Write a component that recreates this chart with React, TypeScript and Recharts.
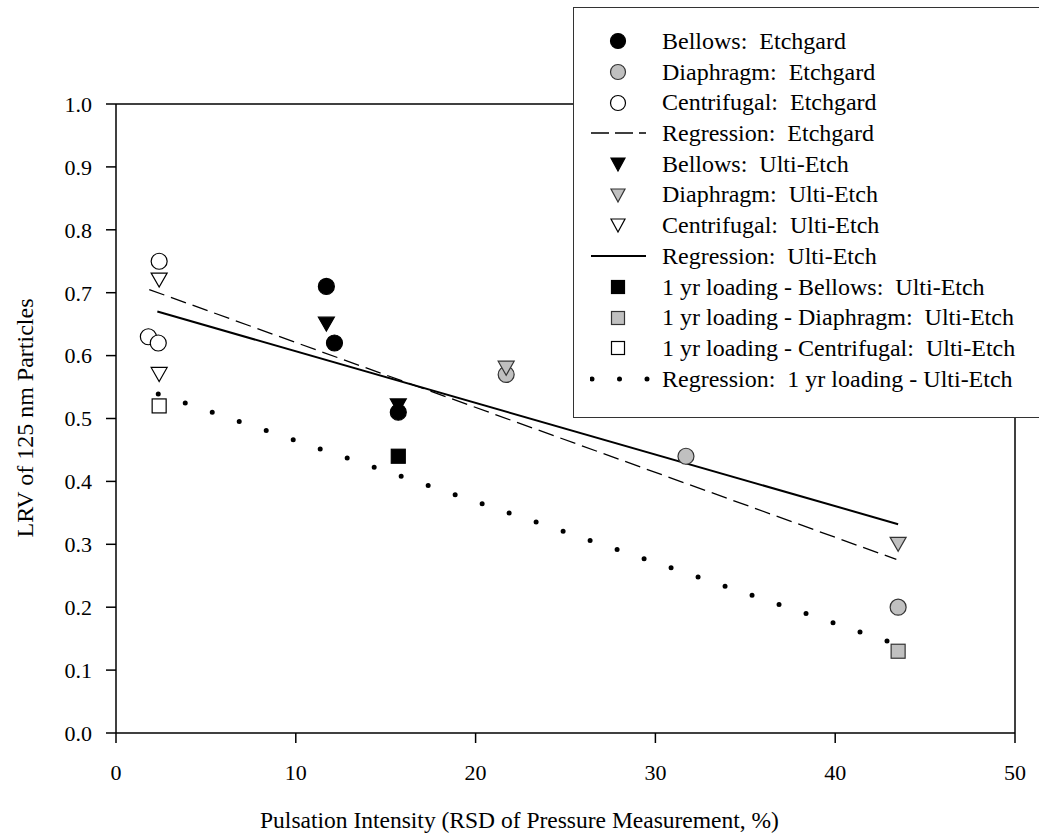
import React from 'react';
import {
  ScatterChart,
  Scatter,
  XAxis,
  YAxis,
  ReferenceLine,
  Legend,
} from 'recharts';

const FONT = "'Liberation Serif', 'Times New Roman', serif";
const GRAY = '#c0c0c0';

const xTicks = [0, 10, 20, 30, 40, 50];
const yTicks = [0, 0.1, 0.2, 0.3, 0.4, 0.5, 0.6, 0.7, 0.8, 0.9, 1.0];

// Etchgard
const bellowsEtchgard = [
  { x: 11.7, y: 0.71 },
  { x: 12.15, y: 0.62 },
  { x: 15.7, y: 0.51 },
];
const diaphragmEtchgard = [
  { x: 21.7, y: 0.57 },
  { x: 31.7, y: 0.44 },
  { x: 43.5, y: 0.2 },
];
const centrifugalEtchgard = [
  { x: 2.4, y: 0.75 },
  { x: 1.8, y: 0.63 },
  { x: 2.35, y: 0.62 },
];
const regressionEtchgard = [
  { x: 1.85, y: 0.705 },
  { x: 43.4, y: 0.276 },
];

// Ulti-Etch
const bellowsUlti = [
  { x: 11.7, y: 0.65 },
  { x: 15.7, y: 0.52 },
];
const diaphragmUlti = [
  { x: 21.7, y: 0.58 },
  { x: 43.5, y: 0.3 },
];
const centrifugalUlti = [
  { x: 2.4, y: 0.72 },
  { x: 2.4, y: 0.57 },
];
const regressionUlti = [
  { x: 2.3, y: 0.67 },
  { x: 43.5, y: 0.332 },
];

// 1 yr loading, Ulti-Etch
const bellows1yr = [{ x: 15.7, y: 0.44 }];
const diaphragm1yr = [{ x: 43.5, y: 0.13 }];
const centrifugal1yr = [{ x: 2.4, y: 0.52 }];
const regression1yr = [
  { x: 2.35, y: 0.539 },
  { x: 42.9, y: 0.146 },
];

type Kind = 'circle' | 'triangle' | 'square' | 'dash' | 'solid' | 'dots';

const legendRows: { label: string; kind: Kind; fill?: string }[] = [
  { label: 'Bellows:  Etchgard', kind: 'circle', fill: '#000' },
  { label: 'Diaphragm:  Etchgard', kind: 'circle', fill: GRAY },
  { label: 'Centrifugal:  Etchgard', kind: 'circle', fill: '#fff' },
  { label: 'Regression:  Etchgard', kind: 'dash' },
  { label: 'Bellows:  Ulti-Etch', kind: 'triangle', fill: '#000' },
  { label: 'Diaphragm:  Ulti-Etch', kind: 'triangle', fill: GRAY },
  { label: 'Centrifugal:  Ulti-Etch', kind: 'triangle', fill: '#fff' },
  { label: 'Regression:  Ulti-Etch', kind: 'solid' },
  { label: '1 yr loading - Bellows:  Ulti-Etch', kind: 'square', fill: '#000' },
  { label: '1 yr loading - Diaphragm:  Ulti-Etch', kind: 'square', fill: GRAY },
  { label: '1 yr loading - Centrifugal:  Ulti-Etch', kind: 'square', fill: '#fff' },
  { label: 'Regression:  1 yr loading - Ulti-Etch', kind: 'dots' },
];

const strokeFor = (fill: string) => (fill === GRAY ? '#333' : '#000');

const circleShape = (fill: string) => (p: any) => (
  <circle cx={p.cx} cy={p.cy} r={8} fill={fill} stroke={strokeFor(fill)} strokeWidth={1.2} />
);

const triangleShape = (fill: string) => (p: any) => (
  <path
    d={`M${p.cx - 8},${p.cy - 7} L${p.cx + 8},${p.cy - 7} L${p.cx},${p.cy + 7} Z`}
    fill={fill}
    stroke={strokeFor(fill)}
    strokeWidth={1.2}
  />
);

const squareShape = (fill: string) => (p: any) => (
  <rect x={p.cx - 7} y={p.cy - 7} width={14} height={14} fill={fill} stroke={strokeFor(fill)} strokeWidth={1.2} />
);

const noShape = () => <g />;

const LegendIcon = ({ kind, fill }: { kind: Kind; fill?: string }) => {
  const c = 28;
  const m = 15;
  let el: React.ReactNode = null;
  if (kind === 'circle') el = <circle cx={c} cy={m} r={7.5} fill={fill} stroke={strokeFor(fill!)} strokeWidth={1.2} />;
  if (kind === 'triangle')
    el = <path d={`M${c - 7},${m - 6} L${c + 7},${m - 6} L${c},${m + 7} Z`} fill={fill} stroke={strokeFor(fill!)} strokeWidth={1.2} />;
  if (kind === 'square') el = <rect x={c - 6.5} y={m - 6.5} width={13} height={13} fill={fill} stroke={strokeFor(fill!)} strokeWidth={1.2} />;
  if (kind === 'dash') el = <line x1={1} x2={56} y1={m} y2={m} stroke="#000" strokeWidth={1.3} strokeDasharray="18 6" />;
  if (kind === 'solid') el = <line x1={1} x2={56} y1={m} y2={m} stroke="#000" strokeWidth={2} />;
  if (kind === 'dots')
    el = <line x1={2} x2={58} y1={m} y2={m} stroke="#000" strokeWidth={5} strokeLinecap="round" strokeDasharray="0 27.5" />;
  return (
    <svg width={60} height={30} style={{ display: 'block', flex: 'none' }}>
      {el}
    </svg>
  );
};

const LegendBox = () => (
  <div
    style={{
      background: '#fff',
      border: '1.5px solid #333',
      borderRight: 'none',
      padding: '18px 0 23px 16px',
      fontFamily: FONT,
      fontSize: 24,
      color: '#000',
      boxSizing: 'border-box',
      width: 480,
    }}
  >
    {legendRows.map((r) => (
      <div key={r.label} style={{ display: 'flex', alignItems: 'center', height: 30.7 }}>
        <LegendIcon kind={r.kind} fill={r.fill} />
        <span style={{ whiteSpace: 'pre', marginLeft: 12, lineHeight: '30.7px' }}>{r.label}</span>
      </div>
    ))}
  </div>
);

const tickStyle = { fill: '#000', fontSize: 22, fontFamily: FONT };
const axisLine = { stroke: '#000', strokeWidth: 1.5 };

export default function App() {
  return (
    <div style={{ position: 'absolute', left: 0, top: 0, width: 1039, height: 839, overflow: 'hidden', background: '#fff' }}>
      <ScatterChart width={1039} height={839} margin={{ top: 104, right: 24, bottom: 0, left: 0 }}>
        <XAxis
          type="number"
          dataKey="x"
          domain={[0, 50]}
          ticks={xTicks}
          tick={tickStyle}
          tickSize={10}
          tickMargin={21}
          axisLine={axisLine}
          tickLine={axisLine}
          height={106}
          allowDataOverflow
          label={{
            content: () => (
              <text x={519.5} y={828} textAnchor="middle" fontFamily={FONT} fontSize={23.5} fill="#000">
                Pulsation Intensity (RSD of Pressure Measurement, %)
              </text>
            ),
          }}
        />
        <YAxis
          type="number"
          dataKey="y"
          domain={[0, 1]}
          ticks={yTicks}
          tickFormatter={(v: number) => v.toFixed(1)}
          tick={tickStyle}
          tickSize={10}
          tickMargin={14}
          axisLine={axisLine}
          tickLine={axisLine}
          width={116}
          allowDataOverflow
          label={{
            content: () => (
              <text
                x={25}
                y={418}
                transform="rotate(-90, 25, 418)"
                textAnchor="middle"
                dominantBaseline="central"
                fontFamily={FONT}
                fontSize={24}
                fill="#000"
              >
                LRV of 125 nm Particles
              </text>
            ),
          }}
        />
        <ReferenceLine y={1} stroke="#000" strokeWidth={1.5} ifOverflow="extendDomain" />
        <ReferenceLine x={50} stroke="#000" strokeWidth={1.5} ifOverflow="extendDomain" />

        <Scatter data={regressionEtchgard} shape={noShape} line={{ stroke: '#000', strokeWidth: 1.3, strokeDasharray: '16 7' }} isAnimationActive={false} />
        <Scatter data={regressionUlti} shape={noShape} line={{ stroke: '#000', strokeWidth: 2 }} isAnimationActive={false} />
        <Scatter
          data={regression1yr}
          shape={noShape}
          line={{ stroke: '#000', strokeWidth: 5, strokeLinecap: 'round', strokeDasharray: '0 28.5' }}
          isAnimationActive={false}
        />

        <Scatter data={bellowsUlti} shape={triangleShape('#000')} isAnimationActive={false} />
        <Scatter data={bellowsEtchgard} shape={circleShape('#000')} isAnimationActive={false} />
        <Scatter data={diaphragmEtchgard} shape={circleShape(GRAY)} isAnimationActive={false} />
        <Scatter data={centrifugalEtchgard} shape={circleShape('#fff')} isAnimationActive={false} />
        <Scatter data={diaphragmUlti} shape={triangleShape(GRAY)} isAnimationActive={false} />
        <Scatter data={centrifugalUlti} shape={triangleShape('#fff')} isAnimationActive={false} />
        <Scatter data={bellows1yr} shape={squareShape('#000')} isAnimationActive={false} />
        <Scatter data={diaphragm1yr} shape={squareShape(GRAY)} isAnimationActive={false} />
        <Scatter data={centrifugal1yr} shape={squareShape('#fff')} isAnimationActive={false} />

        <Legend
          layout="horizontal"
          verticalAlign="middle"
          align="center"
          content={() => <LegendBox />}
          wrapperStyle={{ position: 'absolute', left: 573, top: 7, width: 480, margin: 0 }}
        />
      </ScatterChart>
    </div>
  );
}
